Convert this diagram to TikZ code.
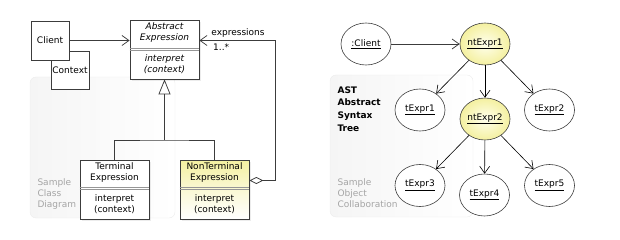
\documentclass[tikz,border=0pt]{standalone}
\usepackage{fontspec}
\setmainfont{DejaVu Sans}
\usepackage{tikz}
\usetikzlibrary{shapes.geometric, arrows.meta, positioning, calc, shadows}
\definecolor{myline}{RGB}{60,60,60}
\definecolor{mygrey}{RGB}{165,165,165}
\definecolor{mysep}{RGB}{150,150,150}
\definecolor{myyellow}{RGB}{244,240,160}
\definecolor{mylightyel}{RGB}{255,255,238}
\definecolor{mypanel}{RGB}{245,245,245}
\definecolor{mypanelrim}{RGB}{236,236,236}
\tikzset{
  classbox/.style={rectangle, draw=myline, fill=white,
    minimum width=69pt, minimum height=59pt, inner sep=0pt, line width=0.8pt,
    drop shadow={opacity=0.15, shadow xshift=2pt, shadow yshift=-2pt}},
  ntbox/.style={classbox, top color=myyellow, bottom color=white,
    middle color=myyellow!45!white},
  plainbox/.style={rectangle, draw=myline, fill=white,
    minimum width=38pt, minimum height=38pt, inner sep=0pt, line width=0.8pt},
  objnode/.style={ellipse, draw=myline, fill=white,
    minimum width=50pt, minimum height=42pt, inner sep=0pt, line width=0.6pt},
  ntnode/.style={objnode, inner color=mylightyel, outer color=myyellow},
  panel/.style={rounded corners=6pt, draw=mypanelrim, left color=mypanel, right color=white},
  note/.style={align=left, anchor=west, text=mygrey},
  sepline/.style={line width=0.5pt, color=mysep},
  arrow/.style={-{Straight Barb[length=7pt, width=10pt]}, line width=0.75pt, color=myline},
  tarrow/.style={-{Straight Barb[length=7pt, width=10pt]}, line width=0.6pt, color=black},
  inherit/.style={-{Triangle[open, length=15pt, width=12pt]}, line width=0.75pt, color=myline},
  aggr/.style={{Diamond[open, length=14pt, width=7pt]}-{Straight Barb[length=7pt, width=10pt]},
    line width=0.75pt, color=myline},
  line/.style={line width=0.75pt, color=myline}
}
\begin{document}
\begin{tikzpicture}[x=1pt, y=-1pt, every node/.style={font=\fontsize{9}{11}\selectfont}]
  \useasboundingbox (0,0) rectangle (620,240);

  % Background panels
  \draw[panel] (30,77) rectangle (175,218);
  \draw[panel] (330,75) rectangle (473,217);
  \node[note] (classnote) at (34,194) {Sample\\Class\\Diagram};
  \node[note] (objnote) at (334,193.5) {Sample\\Object\\Collaboration};

  % Class diagram
  \node[plainbox] (context) at (70,70) {Context};
  \node[plainbox, minimum height=39pt] (client) at (50,40.5) {Client};

  \node[classbox] (abs) at (164.5,49.5) {};
  \node[align=center, font=\fontsize{9}{11}\selectfont\itshape] (absname) at ([yshift=-12.5pt]abs.north) {Abstract\\Expression};
  \node[align=center, font=\fontsize{9}{11}\selectfont\itshape] (absop) at ([yshift=15pt]abs.south) {interpret\\(context)};
  \draw[sepline] ([yshift=1pt]abs.west) -- ([yshift=1pt]abs.east);
  \draw[sepline] ([yshift=-1pt]abs.west) -- ([yshift=-1pt]abs.east);

  \node[classbox] (term) at (114.5,189.5) {};
  \node[align=center] (termname) at ([yshift=-12.5pt]term.north) {Terminal\\Expression};
  \node[align=center] (termop) at ([yshift=15pt]term.south) {interpret\\(context)};
  \draw[sepline] ([yshift=2pt]term.west) -- ([yshift=2pt]term.east);
  \draw[sepline] ([yshift=0pt]term.west) -- ([yshift=0pt]term.east);

  \node[ntbox] (nonterm) at (214.5,189.5) {};
  \node[align=center] (ntname) at ([yshift=-12.5pt]nonterm.north) {NonTerminal\\Expression};
  \node[align=center] (ntop) at ([yshift=15pt]nonterm.south) {interpret\\(context)};
  \draw[sepline] ([yshift=2pt]nonterm.west) -- ([yshift=2pt]nonterm.east);
  \draw[sepline] ([yshift=0pt]nonterm.west) -- ([yshift=0pt]nonterm.east);

  \draw[arrow] (client.east) -- ([yshift=9pt]abs.west);
  \coordinate (junc) at (164.5,140);
  \draw[line] (term.north) |- (junc) -| (nonterm.north);
  \draw[inherit] (junc) -- (abs.south);
  \draw[aggr] ([yshift=9pt]nonterm.east) -- ++(26,0) |- ([yshift=9pt]abs.east);
  \node (exprlabel) at (238,33) {expressions};
  \node[anchor=west, inner sep=0pt] (multlabel) at (213,47.5) {1..*};

  % Object diagram
  \node[font=\fontsize{9}{12.7}\selectfont\bfseries, align=left, anchor=west] (astnote) at (334,109) {AST\\Abstract\\Syntax\\Tree};
  \node[objnode] (oclient) at (366,44) {\underline{:Client}};
  \node[ntnode] (nt1) at (485,44) {\underline{ntExpr1}};
  \node[objnode] (t1) at (420,110) {\underline{tExpr1}};
  \node[ntnode] (nt2) at (485,119) {\underline{ntExpr2}};
  \node[objnode] (t2) at (549.5,110) {\underline{tExpr2}};
  \node[objnode] (t3) at (420,185.5) {\underline{tExpr3}};
  \node[objnode] (t4) at (484.5,195) {\underline{tExpr4}};
  \node[objnode] (t5) at (549.5,185.5) {\underline{tExpr5}};

  \draw[arrow] (oclient) -- (nt1);
  \draw[tarrow] (nt1) -- (t1);
  \draw[tarrow] (nt1) -- (nt2);
  \draw[tarrow] (nt1) -- (t2);
  \draw[tarrow] (nt2) -- (t3);
  \draw[tarrow] (nt2) -- (t4);
  \draw[tarrow] (nt2) -- (t5);
\end{tikzpicture}
\end{document}
